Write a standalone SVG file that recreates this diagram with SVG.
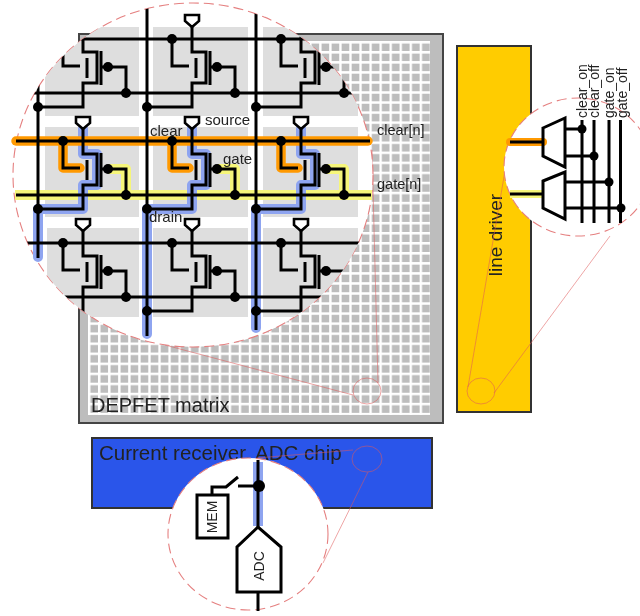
<svg xmlns="http://www.w3.org/2000/svg" xmlns:xlink="http://www.w3.org/1999/xlink" width="640" height="616" viewBox="0 0 640 616">
<style>
text{font-family:"Liberation Sans",Arial,sans-serif;fill:#222}
.w{fill:none;stroke:#000;stroke-width:3;stroke-linejoin:miter}
.dot{fill:#000}
.box{stroke:#333;stroke-width:2}
.pin{fill:none;stroke:#e05a5a;stroke-width:.9;opacity:.6}
.lens{fill:#fff;stroke:#e58080;stroke-width:1.1;stroke-dasharray:10 5}
.blue{fill:none;stroke:#8ea4f0;stroke-width:10;stroke-linecap:round;stroke-linejoin:round}
.orange{fill:none;stroke:#ff9900;stroke-width:9.500;stroke-linecap:round;stroke-linejoin:round}
.yellow{fill:none;stroke:#f6f67a;stroke-width:10;stroke-linejoin:round}
.lbl{font-size:15px}
</style>
<defs>
<filter id="soft" filterUnits="userSpaceOnUse" x="0" y="0" width="640" height="616"><feGaussianBlur stdDeviation="0.5"/></filter>
<pattern id="grid" x="88" y="41" width="10.05" height="10.05" patternUnits="userSpaceOnUse">
<path d="M1.2 0V10.05M0 1.2H10.05" stroke="#fff" stroke-width="2.4" fill="none"/>
</pattern>
<clipPath id="bigclip"><ellipse cx="193" cy="175" rx="180" ry="172"/></clipPath>
<g id="cell">
<path class="w" d="M83 27V52H97V83H83V107H38"/>
<path class="w" d="M101 51V85M87 58V78M101 67H108H126V93M63 39V66H80"/>
<circle class="dot" cx="108" cy="67" r="5"/>
<circle class="dot" cx="126" cy="93" r="5"/>
<circle class="dot" cx="63" cy="39" r="5"/>
<circle class="dot" cx="38" cy="107" r="5"/>
<polygon points="76,15 90,15 90,21 83,27 76,21" fill="#fff" stroke="#000" stroke-width="2.600"/>
</g>
<path id="bluepath" class="blue" d="M83 129V154H97V185H83V209H38"/>
<path id="orangepath" class="orange" d="M63 141V168H80"/>
<path id="yellowpath" class="yellow" d="M108 169H126V195"/>
</defs>

<g filter="url(#soft)">
<g id="matrix">
<rect x="79" y="34" width="364" height="389" fill="#bdbdbd" stroke="#444" stroke-width="2"/>
<rect x="88" y="41" width="342" height="374" fill="url(#grid)"/>
<text x="91" y="412" font-size="20">DEPFET matrix</text>
</g>

<g id="line-driver">
<rect class="box" x="457" y="46" width="74" height="366" fill="#ffcc00"/>
<text transform="translate(502 235) rotate(-90)" font-size="19" text-anchor="middle">line driver</text>
</g>

<g id="receiver">
<rect class="box" x="92" y="438" width="340" height="70" fill="#2b55ea"/>
<text x="99" y="460" font-size="20.500">Current receiver, ADC chip</text>
</g>

<g id="connectors">
<ellipse class="pin" cx="367" cy="391" rx="14" ry="13"/>
<ellipse class="pin" cx="481" cy="391" rx="14" ry="13"/>
<ellipse class="pin" cx="367" cy="459" rx="15" ry="13"/>
<path class="pin" d="M353 395L165 345M378 383L372 150M468 387L506 165M494 393L610 236M353 450L257 458M368 472L323 563"/>
</g>

<ellipse id="lens-matrix" class="lens" cx="193" cy="175" rx="180" ry="172"/>
<ellipse id="lens-driver" class="lens" cx="578" cy="167" rx="74" ry="69"/>
<ellipse id="lens-receiver" class="lens" cx="248" cy="534" rx="80" ry="76"/>

<g id="cell-backgrounds" clip-path="url(#bigclip)" fill="#dedede">
<rect x="45" y="27" width="94" height="89"/><rect x="153" y="27" width="95" height="89"/><rect x="263" y="27" width="95" height="89"/>
<rect x="45" y="127" width="94" height="90"/><rect x="153" y="127" width="95" height="90"/><rect x="263" y="127" width="95" height="90"/>
<rect x="47" y="228" width="92" height="89"/><rect x="153" y="228" width="95" height="89"/><rect x="263" y="228" width="95" height="89"/>
</g>

<g id="highlights">
<path class="yellow" d="M15 195H372"/>
<use xlink:href="#yellowpath"/><use xlink:href="#yellowpath" x="109"/><use xlink:href="#yellowpath" x="218"/>
<use xlink:href="#bluepath"/><use xlink:href="#bluepath" x="109"/><use xlink:href="#bluepath" x="218"/>
<path class="blue" d="M38 209V257M147 209V334M256 209V328"/>
<path class="orange" d="M16 141H368"/>
<use xlink:href="#orangepath"/><use xlink:href="#orangepath" x="109"/><use xlink:href="#orangepath" x="218"/>
</g>

<g id="cells" clip-path="url(#bigclip)">
<path class="w" d="M0 39H400M0 93H400M0 243H400M0 297H400M38 0V258M147 0V336M256 0V330"/>
<g id="cell-r0c0"><use xlink:href="#cell"/></g>
<g id="cell-r0c1"><use xlink:href="#cell" x="109"/></g>
<g id="cell-r0c2"><use xlink:href="#cell" x="218"/></g>
<g id="cell-r1c0"><use xlink:href="#cell" y="102"/></g>
<g id="cell-r1c1"><use xlink:href="#cell" x="109" y="102"/></g>
<g id="cell-r1c2"><use xlink:href="#cell" x="218" y="102"/></g>
<g id="cell-r2c0"><use xlink:href="#cell" y="204"/></g>
<g id="cell-r2c1"><use xlink:href="#cell" x="109" y="204"/></g>
<g id="cell-r2c2"><use xlink:href="#cell" x="218" y="204"/></g>
</g>
<path class="w" d="M16 141H370M16 195H371"/>

<g id="cell-labels">
<text class="lbl" x="150" y="136">clear</text>
<text class="lbl" x="205" y="125">source</text>
<text class="lbl" x="223" y="164">gate</text>
<text class="lbl" x="149" y="222">drain</text>
<text class="lbl" x="377" y="135" style="font-size:14.500px">clear[n]</text>
<text class="lbl" x="377" y="189" style="font-size:14.500px">gate[n]</text>
</g>

<g id="driver-detail">
<path d="M510 142H543" stroke="#ff9900" stroke-width="8" stroke-linecap="round"/>
<path d="M510 194H543" stroke="#f6f67a" stroke-width="8"/>
<path class="w" d="M510 142H543M510 194H543"/>
<polygon class="w" points="543,128 565,118 565,167 543,156"/>
<polygon class="w" points="543,181 565,172 565,219 543,208"/>
<path class="w" d="M582 120V223M594 120V223M609 120V223M620.500 120V223M565 129H582M565 156H594M565 182H609M565 208H621"/>
<circle class="dot" cx="582" cy="129" r="4.500"/>
<circle class="dot" cx="594" cy="156" r="4.500"/>
<circle class="dot" cx="609" cy="182" r="4.500"/>
<circle class="dot" cx="621" cy="208" r="4.500"/>
<text transform="translate(587 118) rotate(-90)" font-size="14">clear_on</text>
<text transform="translate(599 118) rotate(-90)" font-size="14">clear_off</text>
<text transform="translate(614 118) rotate(-90)" font-size="14">gate_on</text>
<text transform="translate(627 118) rotate(-90)" font-size="14">gate_off</text>
</g>

<g id="receiver-detail">
<path d="M258 462V526" stroke="#8ea4f0" stroke-width="10"/>
<path class="w" d="M258 460V527M238 486H258M212 495V487H226L238 477M258 592V611"/>
<circle class="dot" cx="259" cy="486" r="6"/>
<g id="mem"><rect class="w" x="197" y="495" width="31" height="43" style="fill:#fff"/>
<text transform="translate(217 517) rotate(-90)" font-size="14" text-anchor="middle">MEM</text></g>
<g id="adc"><polygon class="w" style="fill:#fff" points="258,527 237,547 237,592 281,592 281,547"/>
<text transform="translate(264 566) rotate(-90)" font-size="14" text-anchor="middle">ADC</text></g>
</g>
</g>
</svg>
